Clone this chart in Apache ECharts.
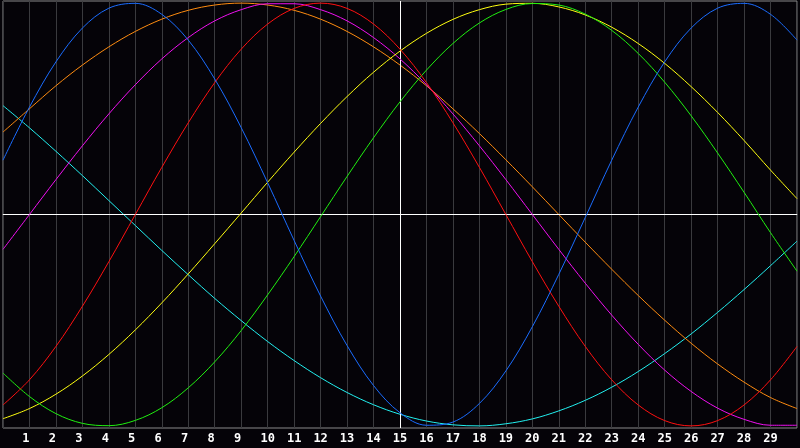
<!DOCTYPE html>
<html lang="en">
<head>
    <meta charset="UTF-8">
    <title>Biorhythm</title>
    <style>
        html, body { margin: 0; padding: 0; background: #050308; }
    </style>
</head>
<body>
<div id="main" style="width: 800px;height:448px;"></div>

<script src="https://cdn.jsdelivr.net/npm/echarts@6/dist/echarts.min.js"></script>
<script>
    // days along the x axis
    var days = [0,1,2,3,4,5,6,7,8,9,10,11,12,13,14,15,16,17,18,19,20,21,22,23,24,25,26,27,28,29,30];

    // values, one per day (-1 .. 1)
    var blue = [0.257,0.508,0.722,0.882,0.976,0.999,0.947,0.825,0.641,0.411,0.150,-0.123,-0.386,-0.620,-0.809,-0.938,-0.997,-0.982,-0.894,-0.740,-0.531,-0.283,-0.014,0.257,0.508,0.722,0.882,0.976,0.999,0.947,0.825];
    var red = [-0.901,-0.782,-0.624,-0.434,-0.223,0.000,0.223,0.434,0.624,0.782,0.901,0.975,1.000,0.975,0.901,0.782,0.624,0.434,0.223,0.000,-0.223,-0.434,-0.624,-0.782,-0.901,-0.975,-1.000,-0.975,-0.901,-0.782,-0.624];
    var green = [-0.750,-0.861,-0.942,-0.988,-0.999,-0.974,-0.914,-0.820,-0.697,-0.549,-0.380,-0.199,-0.010,0.180,0.363,0.533,0.683,0.809,0.906,0.970,0.998,0.991,0.948,0.871,0.762,0.626,0.467,0.291,0.105,-0.086,-0.268];
    var yellow = [-0.966,-0.918,-0.850,-0.764,-0.662,-0.546,-0.418,-0.281,-0.138,0.007,0.153,0.295,0.431,0.558,0.673,0.773,0.857,0.923,0.969,0.995,0.999,0.982,0.944,0.886,0.809,0.715,0.605,0.483,0.350,0.210,0.075];
    var magenta = [-0.165,0.000,0.165,0.325,0.476,0.614,0.736,0.837,0.916,0.969,0.997,0.997,0.969,0.916,0.837,0.736,0.614,0.476,0.325,0.165,0.000,-0.165,-0.325,-0.476,-0.614,-0.736,-0.837,-0.916,-0.969,-0.997,-0.997];
    var orange = [0.390,0.500,0.609,0.707,0.793,0.866,0.924,0.966,0.991,1.000,0.991,0.966,0.924,0.866,0.793,0.707,0.609,0.500,0.383,0.259,0.131,0.000,-0.131,-0.259,-0.383,-0.500,-0.609,-0.707,-0.793,-0.866,-0.918];
    var cyan = [0.515,0.410,0.299,0.184,0.066,-0.052,-0.170,-0.285,-0.397,-0.502,-0.601,-0.691,-0.772,-0.842,-0.900,-0.945,-0.977,-0.995,-1.000,-0.990,-0.967,-0.929,-0.879,-0.817,-0.743,-0.658,-0.565,-0.463,-0.355,-0.242,-0.126];

    var curves = [
        {name: 'cyan', color: '#22f0f0', values: cyan},
        {name: 'orange', color: '#ff8c10', values: orange},
        {name: 'magenta', color: '#f010f0', values: magenta},
        {name: 'yellow', color: '#ffff10', values: yellow},
        {name: 'green', color: '#20f010', values: green},
        {name: 'red', color: '#ff1010', values: red},
        {name: 'blue', color: '#1a6cff', values: blue}
    ];

    var toPairs = function (values) {
        var res = [];
        for (var i = 0; i < days.length; i++) {
            res.push([days[i], values[i]]);
        }
        return res;
    };

    var series = [];
    for (var i = 0; i < curves.length; i++) {
        series.push({
            name: curves[i].name,
            type: 'line',
            smooth: 0.35,
            showSymbol: false,
            silent: true,
            z: 3 + i,
            lineStyle: {color: curves[i].color, width: 1},
            data: toPairs(curves[i].values)
        });
    }
    // white centre cross
    series.push({
        type: 'line',
        data: [],
        z: 2,
        markLine: {
            silent: true,
            symbol: 'none',
            label: {show: false},
            lineStyle: {color: '#ffffff', width: 1, type: 'solid'},
            data: [{xAxis: 15}, {yAxis: 0}]
        }
    });

    var chart = echarts.init(document.getElementById('main'));
    chart.setOption({
        animation: false,
        backgroundColor: '#050308',
        grid: {
            left: 1, right: -1, top: 1, bottom: 20,
            show: true,
            borderColor: '#8a8a8a',
            borderWidth: 1
        },
        xAxis: {
            type: 'value',
            min: 0,
            max: 30,
            interval: 1,
            axisLine: {lineStyle: {color: '#9a9a9a'}},
            axisTick: {show: false},
            splitLine: {lineStyle: {color: '#3a3a3e', width: 1}},
            axisLabel: {
                margin: 5,
                color: '#ffffff',
                fontFamily: 'DejaVu Sans Mono',
                fontWeight: 'bold',
                fontSize: 12,
                // labels start just left of the day line, so single digits sit left of it
                formatter: function (v) {
                    if (v <= 0 || v >= 30) return '';
                    return v < 10 ? v + ' ' : String(v);
                }
            }
        },
        yAxis: {
            type: 'value',
            min: -1.01,
            max: 1.01,
            axisLine: {show: false},
            axisTick: {show: false},
            axisLabel: {show: false},
            splitLine: {show: false}
        },
        series: series
    });
</script>
</body>
</html>
